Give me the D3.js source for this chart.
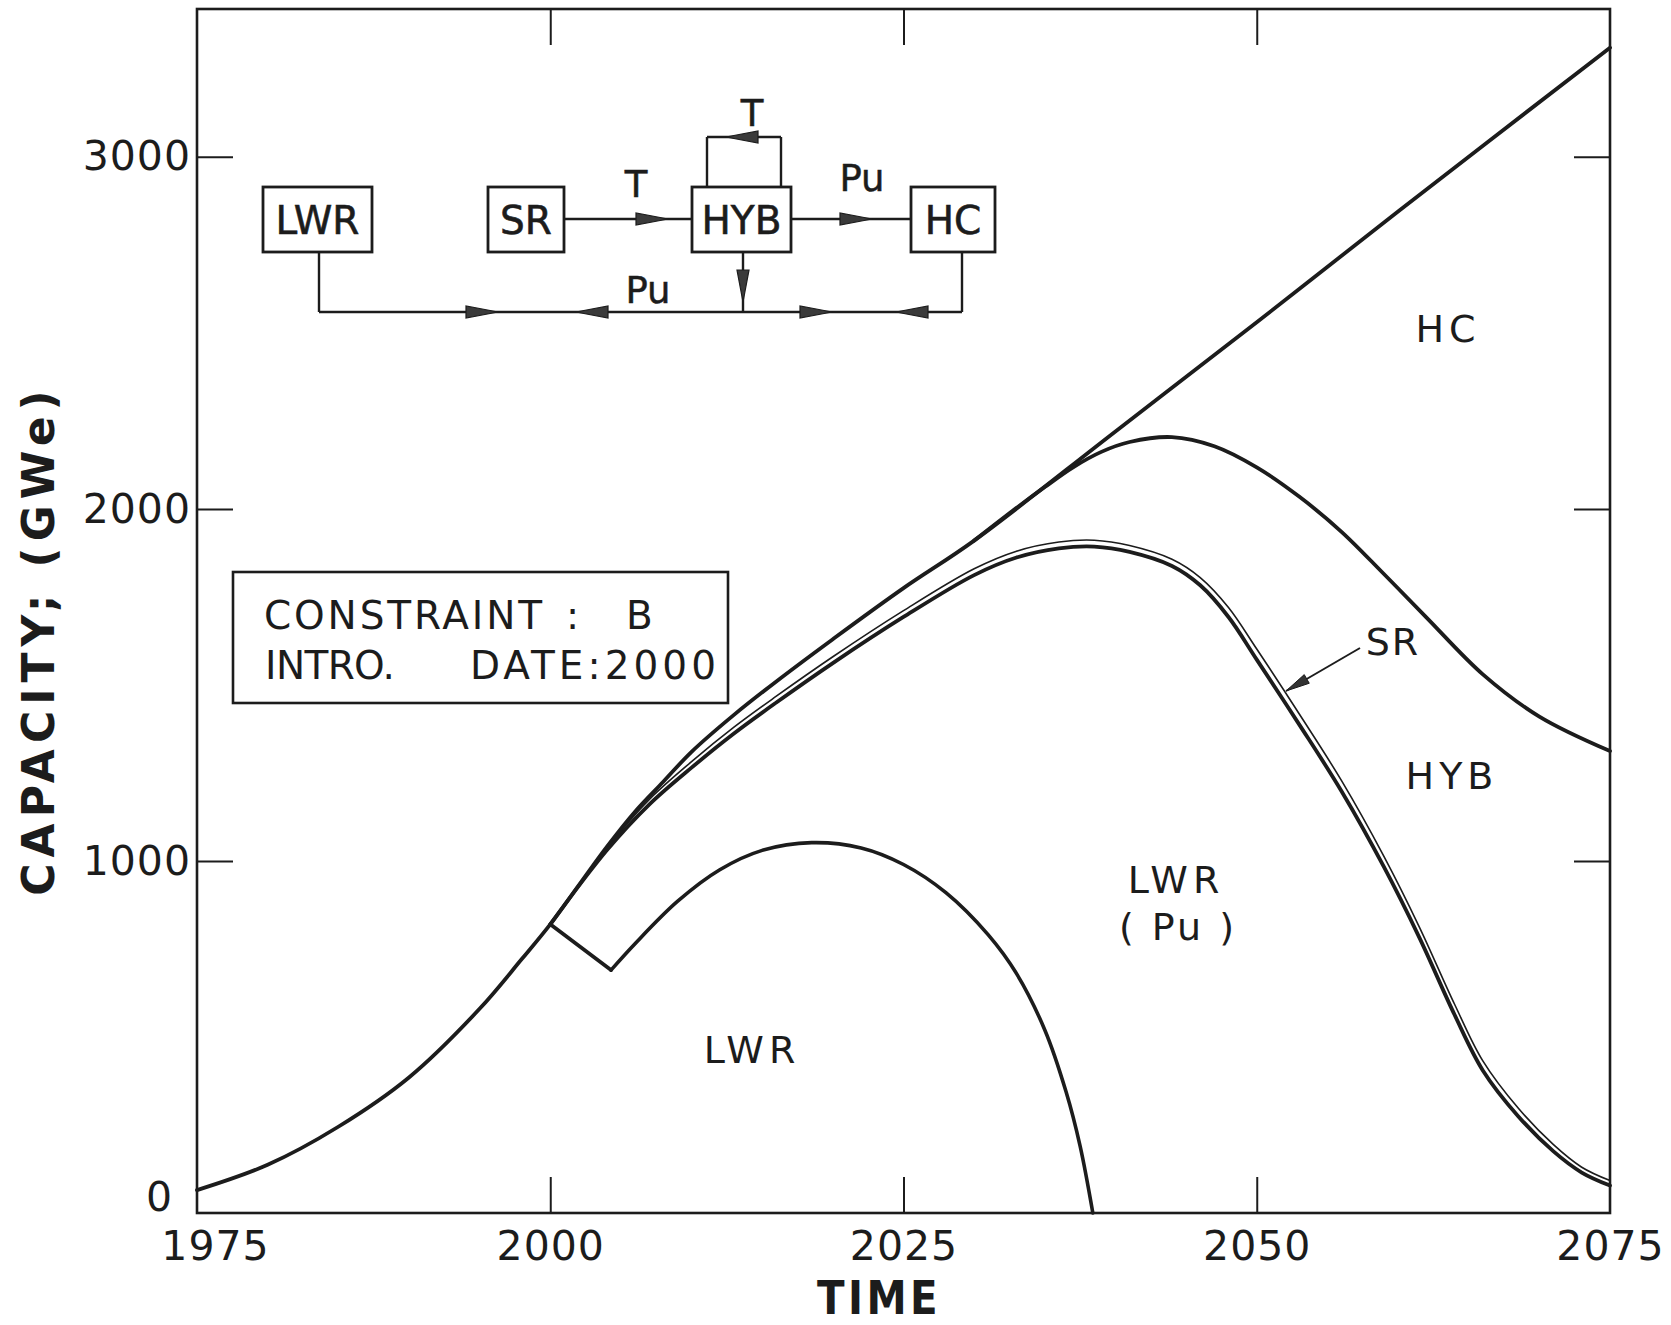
<!DOCTYPE html>
<html>
<head>
<meta charset="utf-8">
<script src="https://cdnjs.cloudflare.com/ajax/libs/d3/7.8.5/d3.min.js"></script>
<style>
  body { margin: 0; background: #fff; }
  svg { display: block; }
  text { font-family: "DejaVu Sans", sans-serif; fill: #1c1c1c; }
</style>
</head>
<body>
<svg id="chart" width="1671" height="1325"></svg>
<script>
// Capacity (GWe), one array per boundary line.
var baseYears = [1975, 1980, 1985, 1990, 1995, 1998, 2000];
var baseValues = [65, 137, 245, 385, 580, 722, 820];

// LWR: straight drop after the 2000 introduction, then the arc
var lwrDropYears = [2000, 2004.3];
var lwrDropValues = [820, 690];
var lwrYears = [2004.3, 2006, 2009, 2012, 2015, 2018.5, 2022, 2025, 2028, 2031, 2033, 2035, 2036.5, 2037.5, 2038.4];
var lwrValues = [690, 765, 885, 975, 1030, 1052, 1037, 990, 910, 790, 680, 520, 345, 190, 0];

// top of LWR(Pu) and top of SR (the thin double line)
var puYears = [2000, 2004, 2007, 2010, 2013, 2016, 2020, 2025, 2030, 2033, 2036, 2038.5, 2041, 2044, 2046, 2048, 2050, 2053, 2056, 2059, 2061.5, 2064, 2066, 2068.5, 2071, 2073, 2075];
var puValues = [820, 1030, 1160, 1265, 1362, 1450, 1562, 1693, 1812, 1862, 1888, 1893, 1878, 1838, 1783, 1693, 1572, 1388, 1198, 983, 783, 563, 405, 275, 175, 115, 78];
var srValues = [820, 1036, 1174, 1282, 1380, 1468, 1580, 1711, 1830, 1880, 1906, 1911, 1896, 1857, 1805, 1720, 1602, 1418, 1228, 1013, 813, 593, 432, 298, 194, 130, 92];

// top of HYB
var hybYears = [2030, 2033, 2035, 2037, 2039, 2041, 2044, 2047, 2050, 2053, 2056, 2059, 2062, 2066, 2070, 2075];
var hybValues = [1910, 2003, 2062, 2118, 2162, 2190, 2204, 2178, 2118, 2035, 1935, 1815, 1692, 1530, 1410, 1312];

// total capacity (top of HC)
var totalYears = [2000, 2002, 2004, 2006, 2008, 2010, 2013, 2016, 2020, 2025, 2030, 2040, 2050, 2060, 2075];
var totalValues = [820, 930, 1040, 1140, 1225, 1310, 1415, 1510, 1630, 1775, 1910, 2220, 2530, 2845, 3310];

var xTicks = [1975, 2000, 2025, 2050, 2075];
var yTicks = [0, 1000, 2000, 3000];

var svg = d3.select('#chart');
var ink = '#1c1c1c';

var x = d3.scaleLinear().domain([1975, 2075]).range([197, 1610]);
var y = d3.scaleLinear().domain([0, 3420]).range([1213, 9]);

function pts(years, values) {
  return years.map(function(d, i) { return [d, values[i]]; });
}

var smooth = d3.line()
    .x(function(d) { return x(d[0]); })
    .y(function(d) { return y(d[1]); })
    .curve(d3.curveCatmullRom.alpha(0.5));
var straight = d3.line()
    .x(function(d) { return x(d[0]); })
    .y(function(d) { return y(d[1]); });

function curve(data, gen, width) {
  svg.append('path')
      .attr('d', gen(data))
      .attr('fill', 'none')
      .attr('stroke', ink)
      .attr('stroke-width', width)
      .attr('stroke-linejoin', 'round')
      .attr('stroke-linecap', 'round');
}

// Curves
curve(pts(baseYears, baseValues).concat(pts(totalYears, totalValues).slice(1)), smooth, 3.8);
curve(pts(hybYears, hybValues), smooth, 3.8);
curve(pts(puYears, puValues), smooth, 3.8);
curve(pts(puYears, srValues), smooth, 1.6);
curve(pts(lwrDropYears, lwrDropValues), straight, 3.8);
curve(pts(lwrYears, lwrValues), smooth, 3.6);

// Axes: ticks point inward on all sides
var tickLen = 36;
var fontAxis = 41;

var gx = svg.append('g')
    .attr('transform', 'translate(0,' + y(0) + ')')
    .call(d3.axisBottom(x).tickValues(xTicks).tickSize(-tickLen).tickPadding(18).tickFormat(d3.format('d')));
var gxTop = svg.append('g')
    .attr('transform', 'translate(0,' + y.range()[1] + ')')
    .call(d3.axisTop(x).tickValues(xTicks.slice(1, -1)).tickSize(-tickLen).tickFormat(''));
var gy = svg.append('g')
    .attr('transform', 'translate(' + x(1975) + ',0)')
    .call(d3.axisLeft(y).tickValues(yTicks).tickSize(-tickLen).tickPadding(6).tickFormat(d3.format('d')));
var gyR = svg.append('g')
    .attr('transform', 'translate(' + x(2075) + ',0)')
    .call(d3.axisRight(y).tickValues(yTicks.slice(1)).tickSize(-tickLen).tickFormat(''));

[gx, gxTop, gy, gyR].forEach(function(g) {
  g.select('.domain').remove();
  g.selectAll('.tick line').attr('stroke', ink).attr('stroke-width', 2);
  g.selectAll('.tick text').attr('font-size', fontAxis).attr('fill', ink)
      .attr('font-family', '"DejaVu Sans", sans-serif').attr('letter-spacing', 1);
});
gy.selectAll('.tick text').filter(function(d) { return d === 0; })
    .attr('dy', '-0.05em').attr('dx', -18);
gx.selectAll('.tick text').filter(function(d) { return d === 1975; }).attr('dx', 18);
gx.selectAll('.tick line').filter(function(d) { return d === 1975 || d === 2075; }).remove();
gy.selectAll('.tick line').filter(function(d) { return d === 0; }).remove();

// frame
svg.append('rect')
    .attr('x', x(1975)).attr('y', y.range()[1])
    .attr('width', x(2075) - x(1975)).attr('height', y(0) - y.range()[1])
    .attr('fill', 'none').attr('stroke', ink).attr('stroke-width', 2.6);

// Axis titles
svg.append('text')
    .attr('transform', 'translate(879,1314) scale(0.86,1)')
    .attr('text-anchor', 'middle')
    .attr('font-size', 47).attr('font-weight', 'bold').attr('letter-spacing', 4)
    .text('TIME');
svg.append('text')
    .attr('transform', 'translate(54,640) rotate(-90)')
    .attr('text-anchor', 'middle')
    .attr('font-size', 44).attr('font-weight', 'bold').attr('letter-spacing', 6)
    .text('CAPACITY;  (GWe)');

// Region labels
function label(tx, ty, str, size, spacing) {
  svg.append('text')
      .attr('x', tx).attr('y', ty)
      .attr('text-anchor', 'middle')
      .attr('font-size', size || 38)
      .attr('letter-spacing', spacing === undefined ? 5 : spacing)
      .text(str);
}
label(1448, 342, 'HC');
label(1452, 789, 'HYB');
label(1393, 655, 'SR', 38, 2);
label(1176, 893, 'LWR');
label(1178, 940, '( Pu )', 38, 3);
label(752, 1063, 'LWR');

// SR pointer
function arrowHead(x1, y1, x2, y2, len, half) {
  var a = Math.atan2(y2 - y1, x2 - x1);
  var bx = x2 - len * Math.cos(a), by = y2 - len * Math.sin(a);
  var px = -Math.sin(a) * half, py = Math.cos(a) * half;
  svg.append('path')
      .attr('d', 'M' + x2 + ',' + y2 + 'L' + (bx + px) + ',' + (by + py) + 'L' + (bx - px) + ',' + (by - py) + 'Z')
      .attr('fill', '#333').attr('stroke', ink).attr('stroke-width', 1);
}
svg.append('line')
    .attr('x1', 1360).attr('y1', 648).attr('x2', 1286).attr('y2', 691)
    .attr('stroke', ink).attr('stroke-width', 2);
arrowHead(1360, 648, 1286, 691, 24, 5);

// Constraint box, words placed like the hand lettering
svg.append('rect')
    .attr('x', 233).attr('y', 572).attr('width', 495).attr('height', 131)
    .attr('fill', 'none').attr('stroke', ink).attr('stroke-width', 2.6);
var words = [
  {t: 'CONSTRAINT', x: 264, y: 629, len: 278},
  {t: ':', x: 566, y: 629},
  {t: 'B', x: 626, y: 629},
  {t: 'INTRO.', x: 265, y: 679, len: 130},
  {t: 'DATE:2000', x: 470, y: 679, len: 246}
];
words.forEach(function(w) {
  var t = svg.append('text').attr('x', w.x).attr('y', w.y).attr('font-size', 39).text(w.t);
  if (w.len) t.attr('textLength', w.len).attr('lengthAdjust', 'spacing');
});

// Fuel flow diagram
var boxes = [
  {name: 'LWR', x0: 263, x1: 372},
  {name: 'SR', x0: 488, x1: 564},
  {name: 'HYB', x0: 692, x1: 791},
  {name: 'HC', x0: 911, x1: 995}
];
var boxTop = 187, boxBot = 252, busY = 312, flowY = 219;
var dia = svg.append('g');

function seg(x1, y1, x2, y2) {
  dia.append('line')
      .attr('x1', x1).attr('y1', y1).attr('x2', x2).attr('y2', y2)
      .attr('stroke', ink).attr('stroke-width', 2.4);
}
function flowArrow(tx, ty, dir) {
  // slim filled arrowhead, tip at (tx, ty)
  var len = 32, half = 6, d;
  if (dir === 'right') d = 'M' + tx + ',' + ty + 'L' + (tx - len) + ',' + (ty - half) + 'L' + (tx - len) + ',' + (ty + half) + 'Z';
  if (dir === 'left') d = 'M' + tx + ',' + ty + 'L' + (tx + len) + ',' + (ty - half) + 'L' + (tx + len) + ',' + (ty + half) + 'Z';
  if (dir === 'down') d = 'M' + tx + ',' + ty + 'L' + (tx - half) + ',' + (ty - len) + 'L' + (tx + half) + ',' + (ty - len) + 'Z';
  dia.append('path').attr('d', d).attr('fill', '#3a3a3a').attr('stroke', ink).attr('stroke-width', 1.2);
}

boxes.forEach(function(b) {
  dia.append('rect')
      .attr('x', b.x0).attr('y', boxTop).attr('width', b.x1 - b.x0).attr('height', boxBot - boxTop)
      .attr('fill', '#fff').attr('stroke', ink).attr('stroke-width', 2.8);
  dia.append('text')
      .attr('x', (b.x0 + b.x1) / 2).attr('y', (boxTop + boxBot) / 2 + 14)
      .attr('text-anchor', 'middle').attr('font-size', 39)
      .attr('stroke', ink).attr('stroke-width', 0.6)
      .text(b.name);
});

// SR -> HYB -> HC
seg(564, flowY, 692, flowY);
flowArrow(668, flowY, 'right');
seg(791, flowY, 911, flowY);
flowArrow(872, flowY, 'right');
// HYB self loop
seg(707, boxTop, 707, 137);
seg(707, 137, 781, 137);
seg(781, 137, 781, boxTop);
flowArrow(726, 137, 'left');
// Pu bus
seg(319, boxBot, 319, busY);
seg(319, busY, 962, busY);
seg(962, busY, 962, boxBot);
seg(743, boxBot, 743, busY);
flowArrow(743, 302, 'down');
flowArrow(498, busY, 'right');
flowArrow(576, busY, 'left');
flowArrow(832, busY, 'right');
flowArrow(896, busY, 'left');

function diaText(tx, ty, str) {
  dia.append('text').attr('x', tx).attr('y', ty)
      .attr('text-anchor', 'middle').attr('font-size', 37)
      .attr('stroke', ink).attr('stroke-width', 0.5)
      .text(str);
}
diaText(752, 126, 'T');
diaText(636, 197, 'T');
diaText(862, 191, 'Pu');
diaText(648, 303, 'Pu');
</script>
</body>
</html>
